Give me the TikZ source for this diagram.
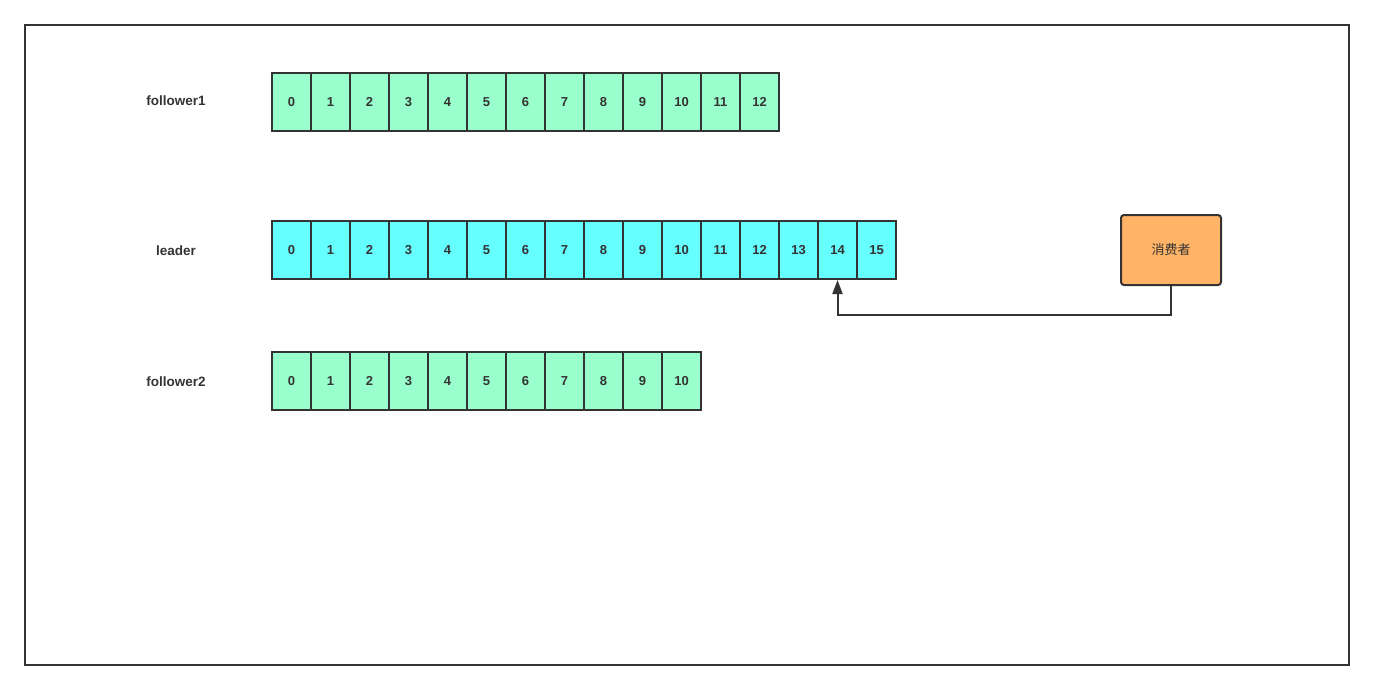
\documentclass[tikz,border=0pt]{standalone}
\usepackage{fontspec}
\setmainfont{Liberation Sans}
\newfontfamily\cjk{Noto Sans CJK SC}
\usetikzlibrary{arrows.meta}
\definecolor{strokec}{HTML}{333333}
\definecolor{greenc}{HTML}{99FFCC}
\definecolor{cyanc}{HTML}{66FFFF}
\definecolor{orangec}{HTML}{FFB366}
\tikzset{
  cell/.style={draw=strokec, line width=2pt, minimum width=39pt, minimum height=58pt, inner sep=0pt, font=\fontsize{13}{15}\selectfont\bfseries, text=strokec},
  gcell/.style={cell, fill=greenc},
  ccell/.style={cell, fill=cyanc},
  rowlabel/.style={font=\fontsize{13.5}{16}\selectfont\bfseries, text=strokec, inner sep=0pt},
  consumerbox/.style={draw=strokec, line width=2pt, fill=orangec, rounded corners=3pt, minimum width=100pt, minimum height=70pt, inner sep=0pt, font=\cjk\fontsize{13}{15}\selectfont, text=strokec},
  conn/.style={draw=strokec, line width=2pt, -{Triangle[length=14pt,width=10pt]}},
}
\begin{document}
\begin{tikzpicture}[x=1pt,y=-1pt]
\useasboundingbox (0,0) rectangle (1374,690);
\draw[strokec, line width=2pt] (25,25) rectangle (1349,665);
\node[rowlabel] (lf1) at (176,101) {follower1};
\node[rowlabel] (ll) at (176,251) {leader};
\node[rowlabel] (lf2) at (176,382) {follower2};
\foreach \i in {0,...,12} {\node[gcell] (f1-\i) at (291.5+39*\i,102) {\i};}
\foreach \i in {0,...,15} {\node[ccell] (l-\i) at (291.5+39*\i,250) {\i};}
\foreach \i in {0,...,10} {\node[gcell] (f2-\i) at (291.5+39*\i,381) {\i};}
\node[consumerbox] (cons) at (1171,250) {消费者};
\coordinate (bend) at (0,315);
\draw[conn] (cons.south) -- (cons.south |- bend) -| (l-14.south);
\end{tikzpicture}
\end{document}
